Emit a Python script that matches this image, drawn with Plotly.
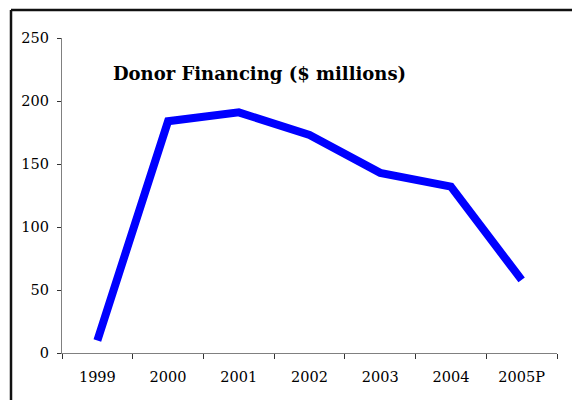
import plotly.graph_objects as go

# Donor financing by year, $ millions
years = ["1999", "2000", "2001", "2002", "2003", "2004", "2005P"]
financing = [10, 184, 191, 173, 143, 132, 58]
y_ticks = [0, 50, 100, 150, 200, 250]

W, H = 572, 400
L, R, T, B = 62, 15, 38, 47  # plot area margins in px
pw, ph = W - L - R, H - T - B

def px_to_paper(x, y):
    return (x - L) / pw, (H - B - y) / ph

fig = go.Figure()
fig.add_trace(go.Scatter(
    x=years, y=financing, mode="lines",
    line=dict(color="#0000FF", width=8, shape="linear"),
    hoverinfo="x+y",
))

serif = "DejaVu Serif"

# Frame lines along the top and the left side
x0, y0 = px_to_paper(11, 10)
x1, _ = px_to_paper(W + 5, 10)
_, y1 = px_to_paper(11, H + 5)
fig.add_shape(type="line", xref="paper", yref="paper", x0=x0, y0=y0, x1=x1, y1=y0,
              line=dict(color="#111111", width=2.5))
fig.add_shape(type="line", xref="paper", yref="paper", x0=x0, y0=y0, x1=x0, y1=y1,
              line=dict(color="#111111", width=2.5))

tx, ty = px_to_paper(259, 73)
fig.add_annotation(
    text="<b>Donor Financing ($ millions)</b>", xref="paper", yref="paper",
    x=tx, y=ty, xanchor="center", yanchor="middle", showarrow=False,
    font=dict(family=serif, size=18, color="#000000"),
)

fig.update_xaxes(
    type="category", range=[-0.5, len(years) - 0.5],
    showline=True, linecolor="#808080", linewidth=1.2,
    ticks="outside", tickson="boundaries", ticklen=5, tickcolor="#333333", tickwidth=1,
    showgrid=False, zeroline=False,
    tickfont=dict(family=serif, size=14.5, color="#000000"),
    ticklabelstandoff=10,
)
fig.update_yaxes(
    range=[0, 250], tickvals=y_ticks,
    showline=True, linecolor="#808080", linewidth=1.2,
    ticks="outside", ticklen=4, tickcolor="#333333", tickwidth=1,
    showgrid=False, zeroline=False,
    tickfont=dict(family=serif, size=14.5, color="#000000"),
    ticklabelstandoff=5,
)

fig.update_layout(
    width=W, height=H,
    margin=dict(l=L, r=R, t=T, b=B),
    paper_bgcolor="#FFFFFF", plot_bgcolor="#FFFFFF",
    showlegend=False,
    font=dict(family=serif),
)

fig.write_html("out.html", config={"displayModeBar": False})
